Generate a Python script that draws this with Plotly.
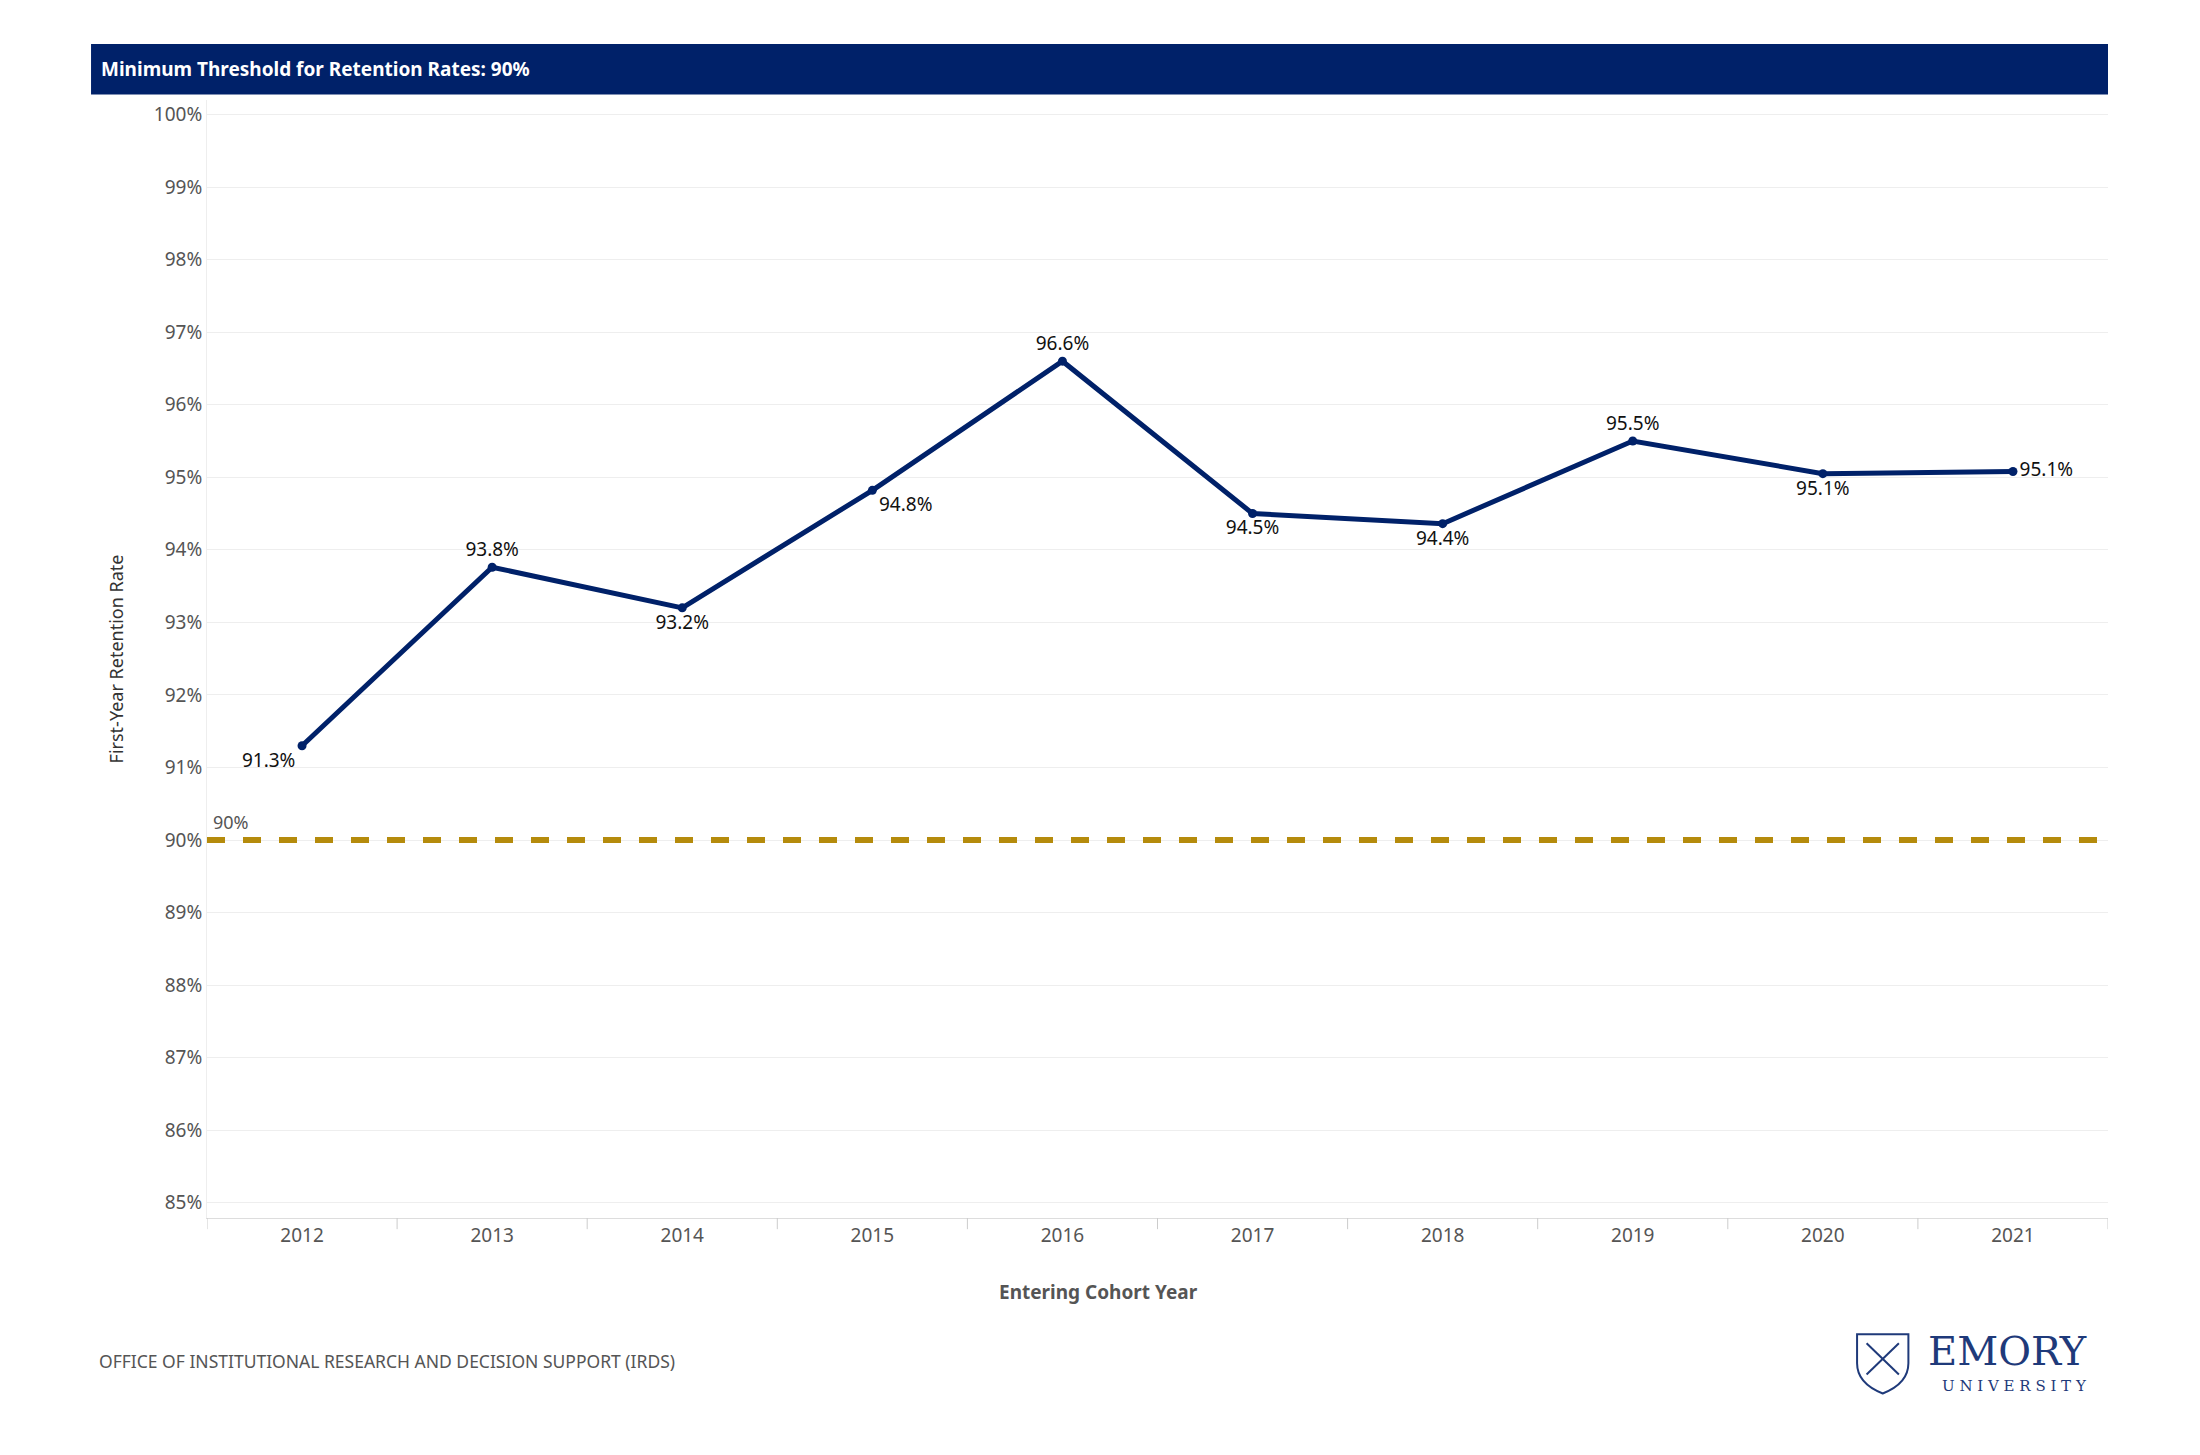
import plotly.graph_objects as go

years = ["2012", "2013", "2014", "2015", "2016", "2017", "2018", "2019", "2020", "2021"]
rates = [91.3, 93.76, 93.2, 94.82, 96.6, 94.5, 94.36, 95.5, 95.05, 95.08]
labels = ["91.3%", "93.8%", "93.2%", "94.8%", "96.6%", "94.5%", "94.4%", "95.5%", "95.1%", "95.1%"]
label_pos = ["bottom left", "top center", "bottom center", "bottom right", "top center",
             "bottom center", "bottom center", "top center", "bottom center", "middle right"]
threshold = 90
yticks = list(range(85, 101))

navy = "#002169"
gold = "#B58B0C"
font = "Noto Sans"

fig = go.Figure()
fig.add_trace(go.Scatter(
    x=list(range(len(years))), y=rates, mode="lines+markers+text",
    text=labels, textposition=label_pos, textfont=dict(size=19, color="#111", family=font),
    line=dict(color=navy, width=5), marker=dict(size=9, color=navy), showlegend=False))

fig.update_layout(
    width=2200, height=1455, plot_bgcolor="white", paper_bgcolor="white",
    margin=dict(l=199, r=100, t=92, b=245),
    font=dict(family=font, color="#555"),
    xaxis=dict(range=[-0.5, 9.5], tickvals=list(range(len(years))), ticktext=years,
               showgrid=False, showline=True, linecolor="#ddd", ticks="", zeroline=False,
               tickfont=dict(size=19, color="#555")),
    yaxis=dict(range=[84.79, 100.2], tickvals=yticks, ticktext=[f"{v}%" for v in yticks],
               showgrid=True, gridcolor="#eeeeee", showline=True, linecolor="#eee",
               zeroline=False, tickfont=dict(size=19, color="#555"), ticks="", ticklen=0,
               title=dict(text="First-Year Retention Rate", font=dict(size=18, color="#333"), standoff=25)),
)

# x-axis title
fig.add_annotation(xref="paper", yref="paper", x=0.469, y=-0.066, xanchor="center", yanchor="middle",
                   showarrow=False, text="<b>Entering Cohort Year</b>",
                   font=dict(size=19, color="#555", family=font))

# threshold reference line
fig.add_shape(type="line", xref="paper", yref="y", x0=0, x1=1, y0=threshold, y1=threshold,
              line=dict(color=gold, width=6, dash="dash"))
fig.add_annotation(x=0, y=threshold, xref="paper", yref="y", xanchor="left", yanchor="bottom",
                   xshift=4, yshift=4, showarrow=False, text=f"{threshold}%",
                   font=dict(size=18, color="#555", family=font))

# x-axis category separators
for i in range(len(years) + 1):
    fig.add_shape(type="line", xref="x", yref="paper", x0=i - 0.5, x1=i - 0.5, y0=0, y1=-0.01,
                  line=dict(color="#ccc", width=1))

# header bar
fig.add_shape(type="rect", xref="paper", yref="paper", x0=-0.061, x1=1.0, y0=1.005,
              y1=1.05, fillcolor=navy, line_width=0, layer="above")
fig.add_annotation(xref="paper", yref="paper", x=-0.057, y=1.0275, xanchor="left",
                   yanchor="middle", showarrow=False,
                   text="<b>Minimum Threshold for Retention Rates: 90%</b>",
                   font=dict(size=19, color="white", family=font))

# footer
fig.add_annotation(xref="paper", yref="paper", x=-0.058, y=-0.128, xanchor="left", yanchor="middle",
                   showarrow=False, text="OFFICE OF INSTITUTIONAL RESEARCH AND DECISION SUPPORT (IRDS)",
                   font=dict(size=17.5, color="#555", family=font))
fig.add_annotation(xref="paper", yref="paper", x=0.99, y=-0.119, xanchor="right", yanchor="middle",
                   showarrow=False, text="EMORY", font=dict(size=40, color="#1f3a7a", family="DejaVu Serif"))
fig.add_annotation(xref="paper", yref="paper", x=0.99, y=-0.150, xanchor="right", yanchor="middle",
                   showarrow=False, text="U N I V E R S I T Y",
                   font=dict(size=15, color="#1f3a7a", family="DejaVu Serif"))
fig.add_shape(type="path", xref="paper", yref="paper",
              path="M 0.868 -0.104 L 0.895 -0.104 L 0.895 -0.130 Q 0.895 -0.148 0.8815 -0.157 "
                   "Q 0.868 -0.148 0.868 -0.130 Z",
              line=dict(color="#1f3a7a", width=2), fillcolor="white")
fig.add_shape(type="line", xref="paper", yref="paper", x0=0.873, y0=-0.112, x1=0.890, y1=-0.140,
              line=dict(color="#1f3a7a", width=2))
fig.add_shape(type="line", xref="paper", yref="paper", x0=0.890, y0=-0.112, x1=0.873, y1=-0.140,
              line=dict(color="#1f3a7a", width=2))

fig.write_html("out.html")
